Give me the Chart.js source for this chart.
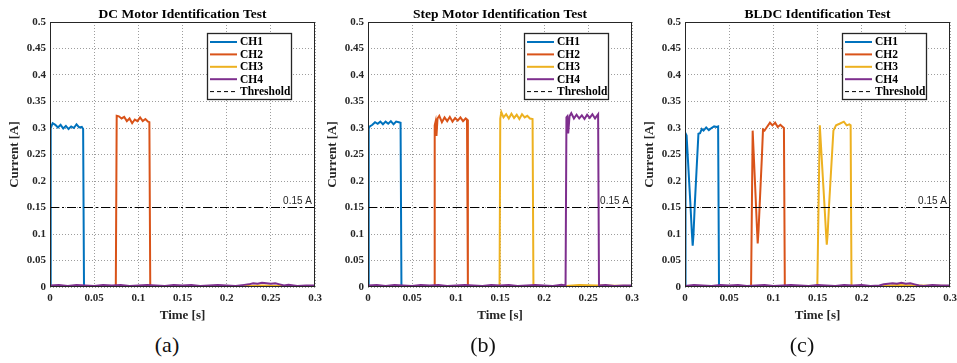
<!DOCTYPE html>
<html>
<head>
<meta charset="utf-8">
<script src="https://cdn.jsdelivr.net/npm/chart.js@4.4.1/dist/chart.umd.min.js"></script>
<style>
  body { margin: 0; background: #fff; width: 957px; height: 363px; overflow: hidden; position: relative; }
  .panel { position: absolute; top: 0; }
  .panel canvas { display: block; }
  .caption { position: absolute; top: 332px; font-family: 'Liberation Serif', serif; font-size: 22px; line-height: 26px; transform: translateX(-50%); color: #111; }
</style>
</head>
<body>
<div class="panel" id="pa"><canvas id="chartA" width="330" height="330"></canvas></div>
<div class="panel" id="pb"><canvas id="chartB" width="330" height="330"></canvas></div>
<div class="panel" id="pc"><canvas id="chartC" width="317" height="330"></canvas></div>
<div class="caption" id="capA"></div>
<div class="caption" id="capB"></div>
<div class="caption" id="capC"></div>
<script>
// axis ticks / labels
const xTicks = [0, 0.05, 0.1, 0.15, 0.2, 0.25, 0.3];
const yTicks = [0, 0.05, 0.1, 0.15, 0.2, 0.25, 0.3, 0.35, 0.4, 0.45, 0.5];
const chNames = ['CH1', 'CH2', 'CH3', 'CH4'];
const panelTitles = ['DC Motor Identification Test', 'Step Motor Identification Test', 'BLDC Identification Test'];
const captions = ['(a)', '(b)', '(c)'];
const thresholdValue = 0.15;
const thresholdLabel = '0.15 A';

// (a) DC motor
const dcCh1T = [0, 0.0008, 0.003, 0.006, 0.009, 0.012, 0.015, 0.018, 0.021, 0.024, 0.027, 0.030, 0.033, 0.036, 0.0375, 0.0385, 0.3];
const dcCh1I = [0.002, 0.300, 0.309, 0.306, 0.301, 0.306, 0.299, 0.304, 0.298, 0.303, 0.300, 0.307, 0.301, 0.302, 0.298, 0.002, 0.002];
const dcCh2T = [0, 0.0745, 0.0755, 0.078, 0.081, 0.084, 0.087, 0.090, 0.093, 0.096, 0.099, 0.102, 0.105, 0.108, 0.111, 0.1125, 0.1135, 0.3];
const dcCh2I = [0.002, 0.002, 0.323, 0.322, 0.318, 0.321, 0.313, 0.318, 0.309, 0.316, 0.313, 0.320, 0.313, 0.317, 0.312, 0.311, 0.002, 0.002];
const dcCh3T = [0, 0.1, 0.2, 0.225, 0.24, 0.26, 0.3];
const dcCh3I = [0.001, 0.001, 0.001, 0.002, 0.003, 0.002, 0.001];
const dcCh4T = [0, 0.01, 0.02, 0.03, 0.04, 0.05, 0.06, 0.07, 0.08, 0.09, 0.10, 0.11, 0.12, 0.13, 0.14, 0.15, 0.16, 0.17, 0.18, 0.19, 0.20, 0.21, 0.22, 0.225, 0.23, 0.235, 0.24, 0.245, 0.25, 0.255, 0.26, 0.265, 0.27, 0.28, 0.29, 0.30];
const dcCh4I = [0.003, 0.004, 0.002, 0.004, 0.003, 0.002, 0.004, 0.003, 0.004, 0.002, 0.003, 0.004, 0.003, 0.002, 0.004, 0.003, 0.004, 0.002, 0.003, 0.004, 0.003, 0.002, 0.004, 0.005, 0.007, 0.006, 0.008, 0.007, 0.006, 0.007, 0.005, 0.003, 0.004, 0.002, 0.003, 0.003];

// (b) step motor
const stCh1T = [0, 0.0008, 0.002, 0.005, 0.008, 0.011, 0.014, 0.017, 0.020, 0.023, 0.026, 0.029, 0.032, 0.035, 0.037, 0.038, 0.3];
const stCh1I = [0.002, 0.299, 0.303, 0.306, 0.311, 0.308, 0.312, 0.307, 0.312, 0.308, 0.313, 0.307, 0.312, 0.311, 0.310, 0.002, 0.002];
const stCh2T = [0, 0.075, 0.0758, 0.0768, 0.0778, 0.079, 0.081, 0.084, 0.087, 0.090, 0.093, 0.096, 0.099, 0.102, 0.105, 0.108, 0.111, 0.1125, 0.1135, 0.3];
const stCh2I = [0.002, 0.002, 0.305, 0.312, 0.285, 0.318, 0.323, 0.311, 0.320, 0.313, 0.321, 0.312, 0.319, 0.314, 0.320, 0.313, 0.318, 0.316, 0.002, 0.002];
const stCh3T = [0, 0.1495, 0.1503, 0.1515, 0.154, 0.157, 0.160, 0.163, 0.166, 0.169, 0.172, 0.175, 0.178, 0.181, 0.184, 0.187, 0.188, 0.225, 0.24, 0.26, 0.3];
const stCh3I = [0.002, 0.002, 0.318, 0.330, 0.320, 0.326, 0.318, 0.327, 0.319, 0.325, 0.317, 0.326, 0.320, 0.323, 0.318, 0.317, 0.002, 0.002, 0.004, 0.003, 0.002];
const stCh4T = [0, 0.01, 0.02, 0.03, 0.04, 0.05, 0.06, 0.07, 0.08, 0.09, 0.10, 0.11, 0.12, 0.13, 0.14, 0.15, 0.16, 0.17, 0.18, 0.19, 0.20, 0.21, 0.22, 0.2245, 0.2255, 0.2265, 0.2275, 0.229, 0.231, 0.234, 0.237, 0.240, 0.243, 0.246, 0.249, 0.252, 0.255, 0.258, 0.2615, 0.2625, 0.27, 0.28, 0.29, 0.30];
const stCh4I = [0.003, 0.004, 0.002, 0.004, 0.003, 0.002, 0.004, 0.003, 0.004, 0.002, 0.003, 0.004, 0.003, 0.002, 0.004, 0.003, 0.004, 0.002, 0.003, 0.004, 0.003, 0.002, 0.004, 0.003, 0.320, 0.322, 0.290, 0.322, 0.328, 0.318, 0.325, 0.318, 0.324, 0.317, 0.325, 0.319, 0.326, 0.318, 0.326, 0.003, 0.004, 0.002, 0.003, 0.003];

// (c) BLDC
const blCh1T = [0, 0.0006, 0.0018, 0.004, 0.006, 0.0078, 0.0087, 0.0096, 0.011, 0.013, 0.0152, 0.017, 0.019, 0.021, 0.024, 0.027, 0.030, 0.033, 0.036, 0.0375, 0.0385, 0.3];
const blCh1I = [0.002, 0.290, 0.286, 0.220, 0.160, 0.102, 0.078, 0.098, 0.153, 0.218, 0.289, 0.290, 0.298, 0.295, 0.301, 0.296, 0.300, 0.303, 0.302, 0.303, 0.002, 0.002];
const blCh2T = [0, 0.0748, 0.0766, 0.078, 0.080, 0.0815, 0.0823, 0.0832, 0.085, 0.087, 0.0883, 0.090, 0.092, 0.0962, 0.099, 0.102, 0.105, 0.108, 0.110, 0.112, 0.113, 0.3];
const blCh2I = [0.002, 0.002, 0.295, 0.243, 0.168, 0.110, 0.082, 0.105, 0.172, 0.244, 0.297, 0.295, 0.300, 0.310, 0.305, 0.310, 0.302, 0.306, 0.303, 0.300, 0.002, 0.002];
const blCh3T = [0, 0.1498, 0.1526, 0.154, 0.156, 0.158, 0.1597, 0.1605, 0.1614, 0.163, 0.165, 0.168, 0.171, 0.175, 0.1798, 0.183, 0.186, 0.1875, 0.1885, 0.225, 0.24, 0.26, 0.3];
const blCh3I = [0.002, 0.002, 0.305, 0.265, 0.208, 0.151, 0.100, 0.080, 0.098, 0.152, 0.209, 0.295, 0.305, 0.308, 0.312, 0.305, 0.307, 0.305, 0.002, 0.002, 0.004, 0.003, 0.002];
const blCh4T = [0, 0.01, 0.02, 0.03, 0.04, 0.05, 0.06, 0.07, 0.08, 0.09, 0.10, 0.11, 0.12, 0.13, 0.14, 0.15, 0.16, 0.17, 0.18, 0.19, 0.20, 0.21, 0.22, 0.225, 0.23, 0.235, 0.24, 0.245, 0.25, 0.255, 0.26, 0.265, 0.27, 0.28, 0.29, 0.30];
const blCh4I = [0.002, 0.004, 0.003, 0.002, 0.004, 0.003, 0.004, 0.002, 0.003, 0.004, 0.002, 0.003, 0.004, 0.003, 0.002, 0.004, 0.003, 0.002, 0.004, 0.003, 0.004, 0.002, 0.003, 0.005, 0.006, 0.007, 0.006, 0.008, 0.006, 0.007, 0.005, 0.003, 0.002, 0.004, 0.003, 0.003];

// matlab default line colours
const chColors = ['#0072BD', '#D95319', '#EDB120', '#7E2F8E'];
const axisColor = '#262626';
const serif = '"Liberation Serif", "Times New Roman", serif';

const panels = [
  { canvas: 'chartA', div: 'pa', cap: 'capA', left: 0, axisW: 50, padR: 15, capX: 167,
    series: [[dcCh1T, dcCh1I], [dcCh2T, dcCh2I], [dcCh3T, dcCh3I], [dcCh4T, dcCh4I]] },
  { canvas: 'chartB', div: 'pb', cap: 'capB', left: 320, axisW: 48, padR: 18, capX: 483,
    series: [[stCh1T, stCh1I], [stCh2T, stCh2I], [stCh3T, stCh3I], [stCh4T, stCh4I]] },
  { canvas: 'chartC', div: 'pc', cap: 'capC', left: 640, axisW: 45, padR: 7, capX: 802,
    series: [[blCh1T, blCh1I], [blCh2T, blCh2I], [blCh3T, blCh3I], [blCh4T, blCh4I]] }
];

const fmt = v => String(Number(v.toFixed(2)));

// title, axes box, legend and threshold label
const decor = {
  id: 'decor',
  afterDatasetsDraw(chart, args, opts) {
    const { ctx, chartArea: a, scales } = chart;
    ctx.save();

    ctx.strokeStyle = axisColor;
    ctx.lineWidth = 1;
    ctx.strokeRect(a.left + 0.5, a.top + 0.5, a.right - a.left - 1, a.bottom - a.top - 1);

    // threshold text
    const ty = scales.y.getPixelForValue(thresholdValue);
    ctx.font = '10px "Liberation Sans", Arial, sans-serif';
    ctx.fillStyle = axisColor;
    ctx.textAlign = 'right';
    ctx.textBaseline = 'bottom';
    ctx.fillText(thresholdLabel, a.right - 3, ty - 1);

    // title
    ctx.font = 'bold 13.5px ' + serif;
    ctx.fillStyle = '#000';
    ctx.textAlign = 'center';
    ctx.textBaseline = 'middle';
    ctx.fillText(opts.title, (a.left + a.right) / 2, 15);

    // legend
    const lw = 84, lh = 66;
    const lx = a.right - 24 - lw, ly = a.top + 11;
    ctx.fillStyle = '#fff';
    ctx.fillRect(lx, ly, lw, lh);
    ctx.strokeStyle = axisColor;
    ctx.lineWidth = 1.3;
    ctx.strokeRect(lx + 0.5, ly + 0.5, lw, lh);
    ctx.font = 'bold 11.5px ' + serif;
    ctx.textAlign = 'left';
    const items = chNames.map((n, i) => ({ name: n, color: chColors[i], dash: [] }));
    items.push({ name: 'Threshold', color: '#000', dash: [4, 3] });
    items.forEach((it, i) => {
      const y = ly + 9 + i * 12.4;
      ctx.beginPath();
      ctx.setLineDash(it.dash);
      ctx.strokeStyle = it.color;
      ctx.lineWidth = it.dash.length ? 1 : 2;
      ctx.moveTo(lx + 3, y);
      ctx.lineTo(lx + 30, y);
      ctx.stroke();
      ctx.setLineDash([]);
      ctx.fillStyle = '#000';
      ctx.fillText(it.name, lx + 33, y + 0.5);
    });
    ctx.restore();
  }
};

panels.forEach((p, k) => {
  document.getElementById(p.div).style.left = p.left + 'px';
  const cap = document.getElementById(p.cap);
  cap.textContent = captions[k];
  cap.style.left = p.capX + 'px';

  const datasets = p.series.map((s, i) => ({
    label: chNames[i],
    data: s[0].map((t, j) => ({ x: t, y: s[1][j] })),
    borderColor: chColors[i],
    borderWidth: 2,
    pointRadius: 0,
    tension: 0,
    order: 3 - i
  }));
  datasets.push({
    label: 'Threshold',
    data: [{ x: xTicks[0], y: thresholdValue }, { x: xTicks[xTicks.length - 1], y: thresholdValue }],
    borderColor: '#000',
    borderWidth: 1,
    borderDash: [9, 3, 2, 3],
    pointRadius: 0,
    order: -1
  });

  const tickFont = { family: serif, size: 11, weight: 'bold' };
  const titleFont = { family: serif, size: 13, weight: 'bold' };

  new Chart(document.getElementById(p.canvas), {
    type: 'line',
    data: { datasets },
    options: {
      responsive: false,
      animation: false,
      layout: { padding: { top: 22, right: p.padR, left: 0, bottom: 0 } },
      plugins: {
        legend: { display: false },
        tooltip: { enabled: false },
        decor: { title: panelTitles[k] }
      },
      scales: {
        x: {
          type: 'linear',
          min: xTicks[0],
          max: xTicks[xTicks.length - 1],
          afterBuildTicks: s => { s.ticks = xTicks.map(v => ({ value: v })); },
          afterFit: s => { s.height = 43; s.paddingLeft = 0; s.paddingRight = 0; },
          grid: { color: 'rgba(38,38,38,0.45)', drawTicks: false, lineWidth: 1 },
          border: { display: false, dash: [1, 2] },
          ticks: { font: tickFont, color: axisColor, padding: 5, maxRotation: 0, autoSkip: false, callback: v => fmt(v) },
          title: { display: true, text: 'Time [s]', font: titleFont, color: axisColor, padding: { top: 0, bottom: 7 } }
        },
        y: {
          min: yTicks[0],
          max: yTicks[yTicks.length - 1],
          afterBuildTicks: s => { s.ticks = yTicks.map(v => ({ value: v })); },
          afterFit: s => { s.width = p.axisW; s.paddingTop = 0; s.paddingBottom = 0; },
          grid: { color: 'rgba(38,38,38,0.45)', drawTicks: false, lineWidth: 1 },
          border: { display: false, dash: [1, 2] },
          ticks: { font: tickFont, color: axisColor, padding: 4, autoSkip: false, callback: v => fmt(v) },
          title: { display: true, text: 'Current [A]', font: titleFont, color: axisColor, padding: { top: p.axisW - 35.5 - 7.8, bottom: 0 } }
        }
      }
    },
    plugins: [decor]
  });
});
</script>
</body>
</html>
